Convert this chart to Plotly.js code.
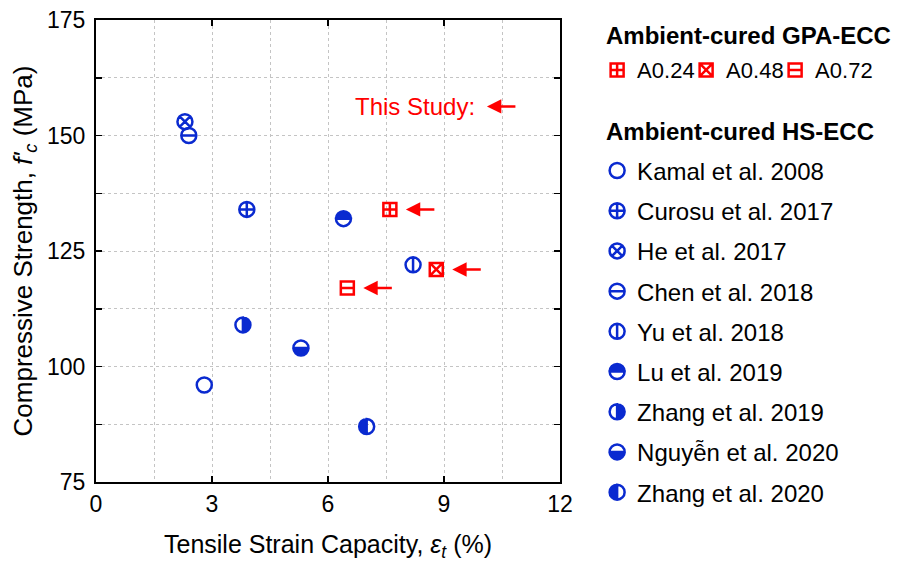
<!DOCTYPE html>
<html>
<head>
<meta charset="utf-8">
<script src="https://cdn.plot.ly/plotly-3.0.1.min.js"></script>
<style>html,body{margin:0;padding:0;background:#fff;}#chart{width:923px;height:562px;}</style>
</head>
<body>
<div id="chart"></div>
<script>
// ---- Data ----
const gpaMixes = ['A0.24', 'A0.48', 'A0.72'];
const gpaStrain = [7.6, 8.8, 6.5];          // tensile strain capacity (%)
const gpaStrength = [134, 121, 117];        // compressive strength (MPa)

const studies = ['Kamal et al. 2008', 'Curosu et al. 2017', 'He et al. 2017', 'Chen et al. 2018',
  'Yu et al. 2018', 'Lu et al. 2019', 'Zhang et al. 2019', 'Nguyễn et al. 2020', 'Zhang et al. 2020'];
const studyStrain = [2.8, 3.9, 2.3, 2.4, 8.2, 6.4, 3.8, 5.3, 7.0];
const studyStrength = [96, 134, 153, 150, 122, 132, 109, 104, 87];

const xTicks = [0, 3, 6, 9, 12];
const yTicks = [75, 100, 125, 150, 175];

const gpaTitle = 'Ambient-cured GPA-ECC';
const studyTitle = 'Ambient-cured HS-ECC';

// ---- Styles ----
const BLUE = '#0a2ad0';
const RED = '#ff0000';
const gpaSymbols = ['square-cross-open', 'square-x-open', 'square-open'];
const gpaExtra = ['', '', 'sq-hline'];
const studySymbols = ['circle-open', 'circle-cross-open', 'circle-x-open', 'circle-open', 'circle-open',
  'circle', 'circle', 'circle', 'circle'];
const studyExtra = ['', '', '', 'hline', 'vline', 'top', 'right', 'bottom', 'left'];

const FONT = 'Liberation Sans, Arial, sans-serif';

const traces = [];
gpaMixes.forEach((name, i) => {
  traces.push({
    type: 'scatter', mode: 'markers', name: name,
    x: [gpaStrain[i]], y: [gpaStrength[i]],
    legend: 'legend', legendgroup: 'g' + i, meta: gpaExtra[i],
    marker: {symbol: gpaSymbols[i], size: 13, color: RED, line: {color: RED, width: 2.5}},
    hoverinfo: 'skip'
  });
});
studies.forEach((name, i) => {
  traces.push({
    type: 'scatter', mode: 'markers', name: name,
    x: [studyStrain[i]], y: [studyStrength[i]],
    legend: 'legend2', legendgroup: 's' + i, meta: studyExtra[i],
    marker: {symbol: studySymbols[i], size: 15, color: BLUE, line: {color: BLUE, width: 2.5}},
    hoverinfo: 'skip'
  });
});

// arrows pointing at the GPA-ECC points
const annotations = gpaMixes.map((n, i) => ({
  x: gpaStrain[i], y: gpaStrength[i], xref: 'x', yref: 'y', text: '',
  showarrow: true, ax: 46, ay: 0, standoff: 16,
  arrowhead: 2, arrowsize: 1.15, arrowwidth: 2.5, arrowcolor: RED
}));
annotations.push({
  x: 9.85, y: 156.3, xref: 'x', yref: 'y', text: 'This Study:', showarrow: false,
  xanchor: 'right', yanchor: 'middle', font: {family: FONT, size: 24, color: RED}
});
annotations.push({
  x: 10.11, y: 156.3, xref: 'x', yref: 'y', text: '', showarrow: true, ax: 30, ay: 0,
  arrowhead: 2, arrowsize: 1.15, arrowwidth: 2.5, arrowcolor: RED
});
// legend group headings
annotations.push({
  x: 1.0948, y: 0.9654, xref: 'paper', yref: 'paper', text: '<b>' + gpaTitle + '</b>',
  showarrow: false, xanchor: 'left', yanchor: 'middle', font: {family: FONT, size: 24, color: '#000'}
});
annotations.push({
  x: 1.0948, y: 0.7597, xref: 'paper', yref: 'paper', text: '<b>' + studyTitle + '</b>',
  showarrow: false, xanchor: 'left', yanchor: 'middle', font: {family: FONT, size: 24, color: '#000'}
});

const axisCommon = {
  showline: true, linecolor: '#000', linewidth: 2, mirror: 'ticks',
  ticks: 'inside', ticklen: 6, tickwidth: 1.5, tickcolor: '#000',
  showgrid: true, gridcolor: '#c4c4c4', gridwidth: 1, griddash: 'dot',
  zeroline: false, tickfont: {family: FONT, size: 23, color: '#000'}
};

const layout = {
  width: 923, height: 562,
  margin: {l: 96, r: 363, t: 20, b: 80},
  paper_bgcolor: '#fff', plot_bgcolor: '#fff',
  font: {family: FONT, color: '#000'},
  hovermode: false,
  xaxis: Object.assign({}, axisCommon, {
    range: [0, 12], tickvals: xTicks, ticktext: xTicks.map(String),
    minor: {dtick: 1.5, tick0: 0, showgrid: true, gridcolor: '#c4c4c4', griddash: 'dot', ticks: ''},
    title: {text: 'Tensile Strain Capacity, <i>ε</i><sub><i>t</i></sub> (%)', font: {family: FONT, size: 25}, standoff: 24}
  }),
  yaxis: Object.assign({}, axisCommon, {
    range: [75, 175], tickvals: yTicks, ticktext: yTicks.map(String),
    minor: {dtick: 12.5, tick0: 75, showgrid: true, gridcolor: '#c4c4c4', griddash: 'dot', ticks: 'inside', ticklen: 6, tickwidth: 1.5, tickcolor: '#000'},
    title: {text: "Compressive Strength, <i>f'</i><sub><i>c</i></sub> (MPa)", font: {family: FONT, size: 26}, standoff: 7},
    ticklabelstandoff: 4
  }),
  showlegend: true,
  legend: {
    x: 1.08, xanchor: 'left', y: 0.937, yanchor: 'top',
    orientation: 'h', entrywidth: 44, entrywidthmode: 'pixels',
    font: {family: FONT, size: 22, color: '#000'}, bgcolor: 'rgba(0,0,0,0)', borderwidth: 0,
    itemsizing: 'trace', traceorder: 'normal'
  },
  legend2: {
    x: 1.08, xanchor: 'left', y: 0.722, yanchor: 'top',
    orientation: 'v', tracegroupgap: 6,
    font: {family: FONT, size: 24, color: '#000'}, bgcolor: 'rgba(0,0,0,0)', borderwidth: 0,
    itemsizing: 'trace', traceorder: 'grouped'
  },
  annotations: annotations
};

function fullCircle(r) {
  return `M${r},0A${r},${r} 0 1,1 ${-r},0A${r},${r} 0 1,1 ${r},0Z`;
}
const emptyHalf = {
  top: r => `M${-r},0A${r},${r} 0 0,0 ${r},0Z`,     // top filled, bottom empty
  bottom: r => `M${-r},0A${r},${r} 0 0,1 ${r},0Z`,  // bottom filled, top empty
  left: r => `M0,${-r}A${r},${r} 0 0,1 0,${r}Z`,    // left filled, right empty
  right: r => `M0,${-r}A${r},${r} 0 0,0 0,${r}Z`    // right filled, left empty
};

function customize(gd) {
  gd.querySelectorAll('path.point, path.scatterpts').forEach(p => {
    const g = p.closest('g.trace, g.traces');
    if (!g || !g.__data__) return;
    const d0 = g.__data__[0];
    const tr = d0 && d0.trace;
    if (!tr || !tr.meta) return;
    const d = p.getAttribute('d') || '';
    const r = parseFloat(d.slice(1));
    if (!(r > 0)) return;
    const key = tr.meta;
    if (key === 'hline') {
      p.setAttribute('d', fullCircle(r) + `M${-r},0H${r}`);
    } else if (key === 'vline') {
      p.setAttribute('d', fullCircle(r) + `M0,${-r}V${r}`);
    } else if (key === 'sq-hline') {
      p.setAttribute('d', `M${r},${r}H${-r}V${-r}H${r}Z` + `M${-r},0H${r}`);
    } else if (emptyHalf[key]) {
      p.setAttribute('d', fullCircle(r) + emptyHalf[key](r));
      p.style.fillRule = 'evenodd';
    }
  });
  // let the last horizontal legend entry's text run past the fixed entry width
  gd.querySelectorAll('g.legend [clip-path]').forEach(el => el.removeAttribute('clip-path'));
}

Plotly.newPlot('chart', traces, layout, {staticPlot: true, displayModeBar: false}).then(gd => {
  customize(gd);
  gd.on && gd.on('plotly_afterplot', () => customize(gd));
});
</script>
</body>
</html>
